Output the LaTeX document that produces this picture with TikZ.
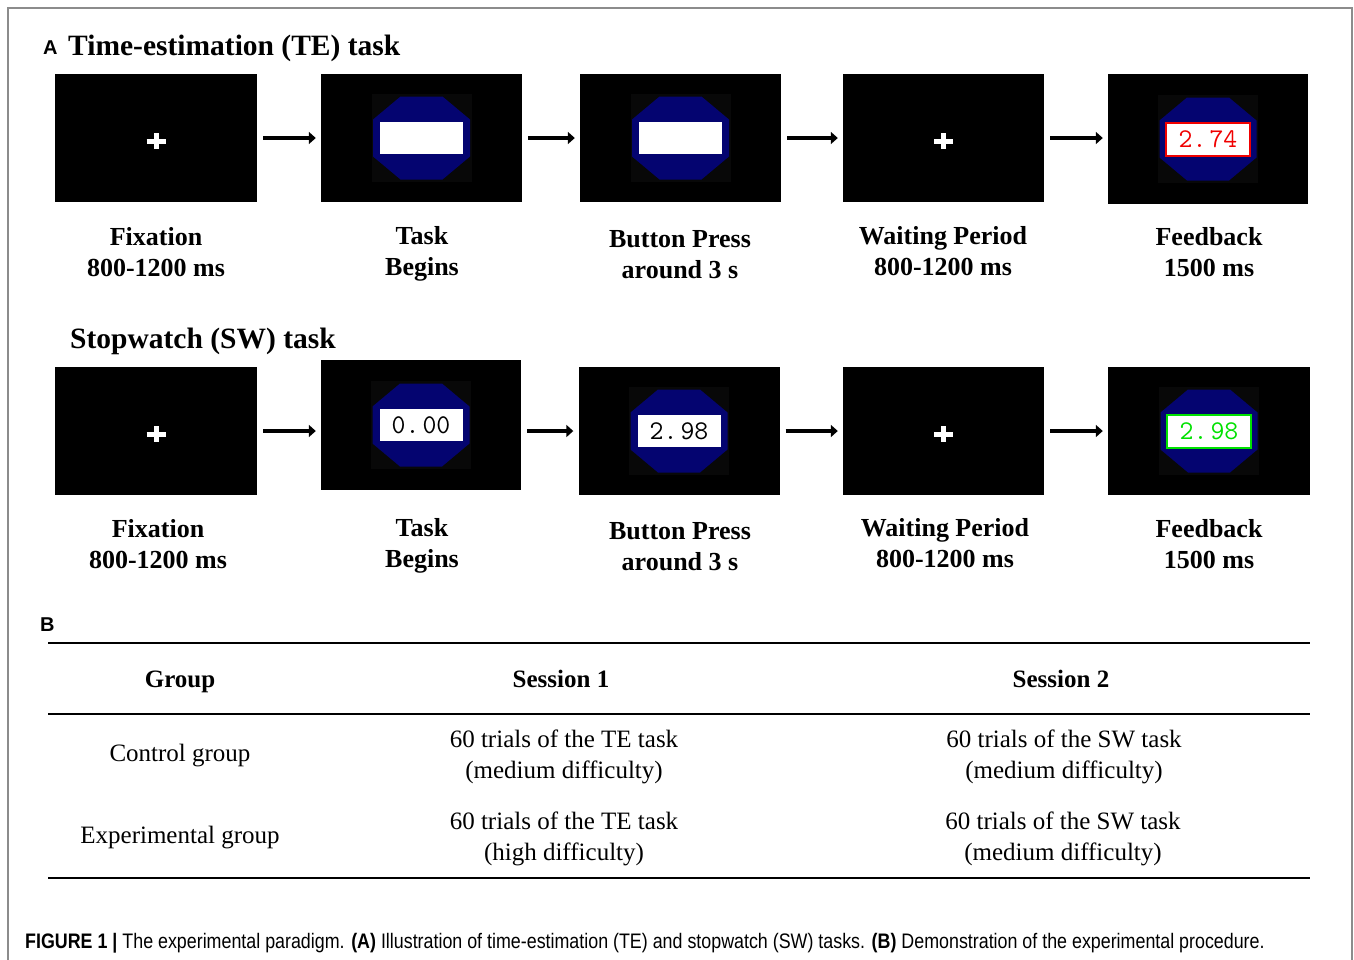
\documentclass[tikz,border=0pt]{standalone}
\usepackage{fontspec}
\setmainfont{Liberation Serif}
\setsansfont{Liberation Sans}
\newfontfamily\capfont[FakeStretch=0.85]{Liberation Sans}
\usetikzlibrary{arrows.meta,positioning,calc}

\definecolor{watchblue}{RGB}{4,4,112}
\definecolor{lcdred}{RGB}{240,0,0}
\definecolor{lcdgreen}{RGB}{0,225,0}
\definecolor{framegray}{RGB}{140,140,140}

\tikzset{
  screen/.style={fill=black, inner sep=0pt, minimum width=201pt, minimum height=128pt},
  lcd/.style={fill=white, draw=watchblue, line width=0.8pt, inner sep=0pt,
    minimum width=84pt, minimum height=33pt, font=\ttfamily\fontsize{27}{27}\selectfont},
  stepname/.style={font=\bfseries\fontsize{26}{31}\selectfont, align=center, inner sep=0pt},
  flow/.style={line width=4pt, -{Triangle[length=7pt,width=12pt]}, shorten <=6pt, shorten >=5pt},
  rule/.style={line width=1.6pt},
  cell/.style={font=\fontsize{25}{31}\selectfont, align=center, inner sep=0pt},
}

% stopwatch face drawn on top of a screen node
\newcommand{\stopwatch}[3][]{%
  \begin{scope}[shift={(#2)}]
    \fill[black!97!white] (-50,-44) rectangle (50,44);
    \fill[watchblue] (-21,-41.5) -- (21,-41.5) -- (48.5,-18.5) -- (48.5,18.5)
      -- (21,41.5) -- (-21,41.5) -- (-48.5,18.5) -- (-48.5,-18.5) -- cycle;
  \end{scope}
  \node[lcd,#1] (#2-lcd) at (#2) {#3};
}
% fixation cross
\newcommand{\fixcross}[1]{%
  \draw[white, line width=5pt] ($(#1)+(-9.5,3)$) -- ($(#1)+(9.5,3)$);
  \draw[white, line width=5pt] ($(#1)+(0,-5)$) -- ($(#1)+(0,11)$);
}

\begin{document}
\begin{tikzpicture}[x=1pt,y=-1pt]
\useasboundingbox (0,0) rectangle (1354,959);
\draw[framegray, line width=1.5pt] (8,962) -- (8,8) -- (1352,8) -- (1352,962);

% A: time-estimation task
\node[anchor=base west, inner sep=0pt, font=\sffamily\bfseries\fontsize{20}{20}\selectfont] (tagA) at (43,54) {A};
\node[anchor=base west, inner sep=0pt, font=\bfseries\fontsize{29.5}{30}\selectfont] (titleTE) at (68,55) {Time-estimation (TE) task};

\node[screen, minimum width=202pt] (te1) at (156,138) {};
\node[screen] (te2) at (421.5,138) {};
\node[screen] (te3) at (680.5,138) {};
\node[screen] (te4) at (943.5,138) {};
\node[screen, minimum width=200pt, minimum height=130pt] (te5) at (1208,139) {};

\fixcross{te1}
\stopwatch{te2}{}
\stopwatch{te3}{}
\fixcross{te4}
\stopwatch[draw=lcdred, text=lcdred, line width=2pt]{te5}{2.\kern3pt74}

\foreach \a/\b in {te1/te2, te2/te3, te3/te4}
  \draw[flow] (\a) -- (\b);
\draw[flow] (te4) -- (te4 -| te5.west);

\node[stepname] (teL1) at (156,252) {Fixation\\800-1200 ms};
\node[stepname] (teL2) at (422,254) {Task\\Begins};
\node[stepname] (teL3) at (680,255) {Button Press\\around 3 s};
\node[stepname] (teL4) at (943,251) {Waiting Period\\800-1200 ms};
\node[stepname] (teL5) at (1209,252) {Feedback\\1500 ms};

% stopwatch task
\node[anchor=base west, inner sep=0pt, font=\bfseries\fontsize{29.5}{30}\selectfont] (titleSW) at (70,348) {Stopwatch (SW) task};

\node[screen, minimum width=202pt] (sw1) at (156,431) {};
\node[screen, minimum width=200pt, minimum height=130pt] (sw2) at (421,425) {};
\node[screen] (sw3) at (679,431) {};
\node[screen] (sw4) at (943.5,431) {};
\node[screen, minimum width=202pt] (sw5) at (1209,431) {};

\fixcross{sw1}
\stopwatch[text=black]{sw2}{0.\kern3pt00}
\stopwatch[text=black]{sw3}{2.\kern3pt98}
\fixcross{sw4}
\stopwatch[draw=lcdgreen, text=lcdgreen, line width=2pt]{sw5}{2.\kern3pt98}

\draw[flow] (sw1) -- (sw1 -| sw2.west);
\draw[flow] (sw2.east |- sw3) -- (sw3);
\foreach \a/\b in {sw3/sw4, sw4/sw5}
  \draw[flow] (\a) -- (\b);

\node[stepname] (swL1) at (158,544) {Fixation\\800-1200 ms};
\node[stepname] (swL2) at (422,546) {Task\\Begins};
\node[stepname] (swL3) at (680,547) {Button Press\\around 3 s};
\node[stepname] (swL4) at (945,543) {Waiting Period\\800-1200 ms};
\node[stepname] (swL5) at (1209,544) {Feedback\\1500 ms};

% B: procedure table
\node[anchor=base west, inner sep=0pt, font=\sffamily\bfseries\fontsize{20}{20}\selectfont] (tagB) at (40,631) {B};
\draw[rule] (48,643) -- (1310,643);
\draw[rule] (48,714) -- (1310,714);
\draw[rule] (48,878) -- (1310,878);

\node[cell, font=\bfseries\fontsize{25}{31}\selectfont] (hGroup) at (180,682) {Group};
\node[cell, font=\bfseries\fontsize{25}{31}\selectfont] (hSes1) at (561,679) {Session 1};
\node[cell, font=\bfseries\fontsize{25}{31}\selectfont] (hSes2) at (1061,679) {Session 2};

\node[cell] (ctrl) at (180,756) {Control group};
\node[cell] (ctrl1) at (564,757) {60 trials of the TE task\\(medium difficulty)};
\node[cell] (ctrl2) at (1064,757) {60 trials of the SW task\\(medium difficulty)};
\node[cell] (expt) at (180,838) {Experimental group};
\node[cell] (expt1) at (564,839) {60 trials of the TE task\\(high difficulty)};
\node[cell] (expt2) at (1063,839) {60 trials of the SW task\\(medium difficulty)};

% caption
\node[anchor=base west, inner sep=0pt, font=\capfont\fontsize{21}{21}\selectfont] (caption) at (25,948)
  {\textbf{FIGURE 1 |} The experimental paradigm. \textbf{(A)} Illustration of time-estimation (TE) and stopwatch (SW) tasks. \textbf{(B)} Demonstration of the experimental procedure.};
\end{tikzpicture}
\end{document}
